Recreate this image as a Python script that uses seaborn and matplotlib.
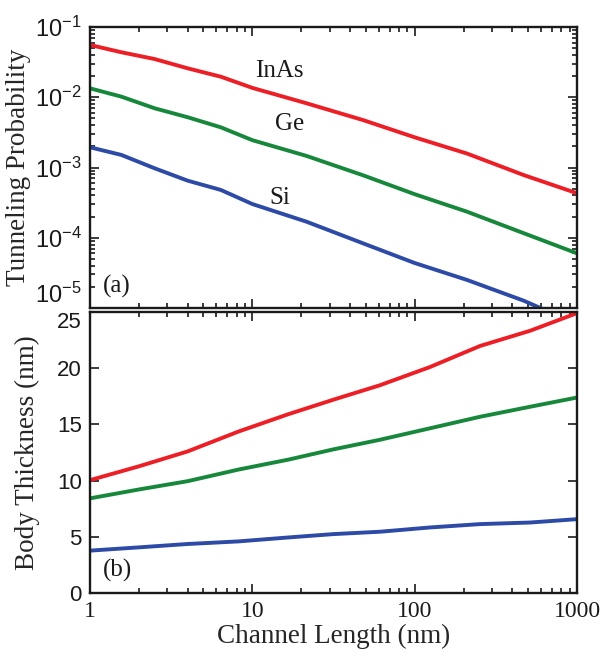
import numpy as np
import pandas as pd
import matplotlib
matplotlib.use("Agg")
import matplotlib.pyplot as plt
from matplotlib.ticker import LogLocator, FixedLocator, NullFormatter
import seaborn as sns

# Tunneling probability vs channel length
length_a = [1, 1.56, 2.5, 4, 6.4, 10, 21.6, 48, 100, 210, 470, 1000]
prob_inas = [0.0555, 0.0437, 0.0350, 0.0258, 0.0196, 0.0136, 0.0082, 0.00474,
             0.00269, 0.00158, 0.00078, 0.00043]
prob_ge = [0.0134, 0.0102, 0.00697, 0.00519, 0.00373, 0.00245, 0.00146, 0.000776,
           0.000417, 0.000235, 0.000116, 0.000060]
prob_si = [0.00194, 0.00151, 0.000975, 0.000649, 0.000479, 0.000302, 0.000169,
           0.0000834, 0.0000437, 0.0000251, 0.0000127, 0.0000059]

# Body thickness vs channel length
length_b = [1, 2, 4, 8.2, 16.6, 31.6, 61, 124, 253, 514, 1000]
thick_inas = [10.04, 11.27, 12.6, 14.36, 15.9, 17.2, 18.48, 20.1, 21.98, 23.33, 24.9]
thick_ge = [8.42, 9.21, 9.95, 10.98, 11.86, 12.78, 13.63, 14.65, 15.68, 16.57, 17.39]
thick_si = [3.77, 4.06, 4.36, 4.59, 4.94, 5.24, 5.45, 5.83, 6.13, 6.27, 6.57]

materials = ["InAs", "Ge", "Si"]
colors = {"InAs": "#ec1f26", "Ge": "#17883b", "Si": "#2c4aa6"}

x_ticks = [1, 10, 100, 1000]
x_ticklabels = ["1", "10", "100", "1000"]
prob_ticks = [1e-5, 1e-4, 1e-3, 1e-2, 1e-1]
prob_ticklabels = [r"$\mathregular{10^{-5}}$", r"$\mathregular{10^{-4}}$",
                   r"$\mathregular{10^{-3}}$", r"$\mathregular{10^{-2}}$",
                   r"$\mathregular{10^{-1}}$"]
thick_ticks = [0, 5, 10, 15, 20, 25]

df_a = pd.concat([
    pd.DataFrame({"L": length_a, "P": vals, "material": m})
    for m, vals in zip(materials, [prob_inas, prob_ge, prob_si])
])
df_b = pd.concat([
    pd.DataFrame({"L": length_b, "T": vals, "material": m})
    for m, vals in zip(materials, [thick_inas, thick_ge, thick_si])
])

sns.set_theme(style="ticks")
plt.rcParams["font.family"] = ["Liberation Serif", "DejaVu Serif"]

W, H = 605, 656
fig = plt.figure(figsize=(W / 100, H / 100), dpi=100)
fig.patch.set_facecolor("white")

def frac(x0, y0, x1, y1):
    return [x0 / W, 1 - y1 / H, (x1 - x0) / W, (y1 - y0) / H]

ax_a = fig.add_axes(frac(90, 27, 577, 308))
ax_b = fig.add_axes(frac(90, 312, 577, 593))

lw = 2.8
sns.lineplot(data=df_a, x="L", y="P", hue="material", hue_order=materials,
             palette=colors, linewidth=lw, legend=False, ax=ax_a)
sns.lineplot(data=df_b, x="L", y="T", hue="material", hue_order=materials,
             palette=colors, linewidth=lw, legend=False, ax=ax_b)

for ax in (ax_a, ax_b):
    ax.set_xscale("log")
    ax.set_xlim(1, 1000)
    ax.xaxis.set_major_locator(FixedLocator(x_ticks))
    ax.xaxis.set_minor_locator(LogLocator(base=10, subs=np.arange(2, 10), numticks=20))
    ax.xaxis.set_minor_formatter(NullFormatter())
    ax.tick_params(which="both", direction="in", top=True, right=True,
                   width=1.2, colors="#1a1a1a")
    ax.tick_params(which="major", length=6.5)
    ax.tick_params(which="minor", length=3.5)
    for s in ax.spines.values():
        s.set_linewidth(1.7)
        s.set_color("#1a1a1a")
    ax.set_facecolor("white")

# Panel (a): tunneling probability
ax_a.set_yscale("log")
ax_a.set_ylim(1e-5, 1e-1)
ax_a.set_yticks(prob_ticks, labels=prob_ticklabels, fontfamily="Liberation Sans",
                fontsize=17)
ax_a.yaxis.set_minor_locator(LogLocator(base=10, subs=np.arange(2, 10), numticks=20))
ax_a.yaxis.set_minor_formatter(NullFormatter())
ax_a.tick_params(axis="y", pad=6)
ax_a.get_yticklabels()[0].set_verticalalignment("bottom")
ax_a.set_xticklabels([])
ax_a.set_xlabel("")
ax_a.set_ylabel("Tunneling Probability", fontsize=19.5, labelpad=3)

ax_a.text(0.388, 0.845, "InAs", transform=ax_a.transAxes, fontsize=18,
          ha="center", va="center", color="#1a1a1a")
ax_a.text(0.41, 0.655, "Ge", transform=ax_a.transAxes, fontsize=18,
          ha="center", va="center", color="#1a1a1a")
ax_a.text(0.39, 0.39, "Si", transform=ax_a.transAxes, fontsize=18,
          ha="center", va="center", color="#1a1a1a")
ax_a.text(0.026, 0.075, "(a)", transform=ax_a.transAxes, fontsize=18,
          ha="left", va="center", color="#1a1a1a")

# Panel (b): body thickness
ax_b.set_ylim(0, 25)
ax_b.set_yticks(thick_ticks, labels=[str(t) for t in thick_ticks],
                fontfamily="Liberation Sans", fontsize=16)
ax_b.get_yticklabels()[-1].set_verticalalignment("top")
ax_b.tick_params(axis="y", pad=6)
ax_b.set_xticks(x_ticks, labels=x_ticklabels, fontfamily="Liberation Serif",
                fontsize=17)
ax_b.tick_params(axis="x", pad=6)
ax_b.set_ylabel("Body Thickness (nm)", fontsize=19.5, labelpad=12)
ax_b.set_xlabel("Channel Length (nm)", fontsize=19.5, labelpad=1)
ax_b.text(0.026, 0.08, "(b)", transform=ax_b.transAxes, fontsize=18,
          ha="left", va="center", color="#1a1a1a")

fig.savefig("out.png", dpi=100, facecolor="white")
